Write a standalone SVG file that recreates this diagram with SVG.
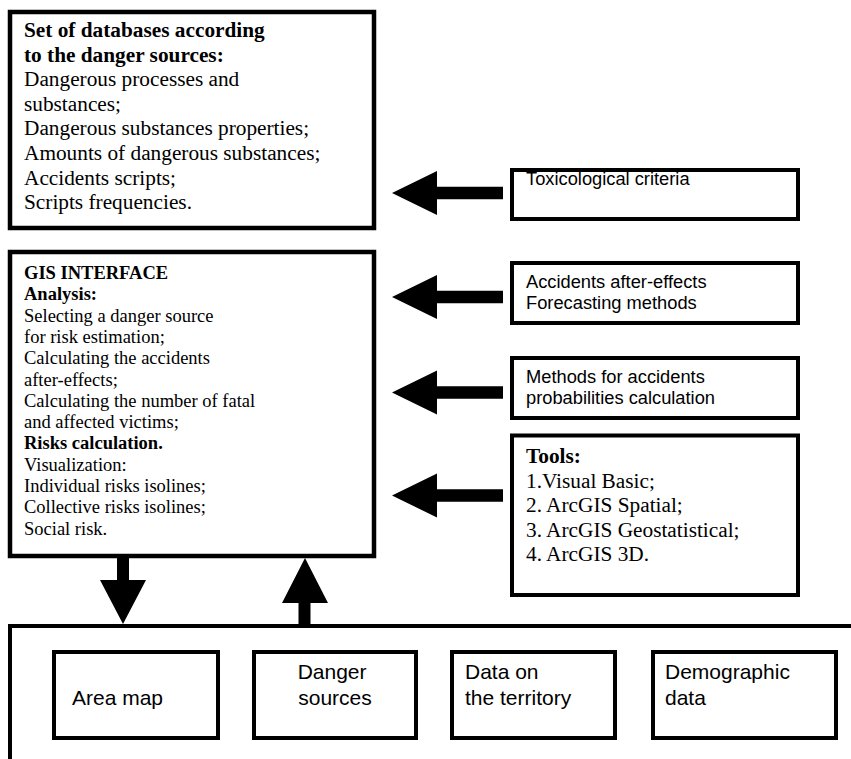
<svg xmlns="http://www.w3.org/2000/svg" width="851" height="759" viewBox="0 0 851 759">
  <style>
    .box { fill: #fff; stroke: #000; stroke-width: 4.5; }
    .sbox { fill: #fff; stroke: #000; stroke-width: 4; }
    .serif { font-family: "Liberation Serif", "Times New Roman", serif; fill: #000; }
    .sans { font-family: "Liberation Sans", Arial, sans-serif; fill: #000; }
    .b { font-weight: bold; }
    .arrow { fill: #000; }
  </style>
  <rect width="851" height="759" fill="#fff"/>

  <!-- outer frame of the data layer -->
  <g id="data-layer">
    <path d="M10,759 V626 H851" fill="none" stroke="#000" stroke-width="4"/>
  </g>

  <g id="databases">
    <rect class="box" x="10" y="12" width="364" height="216"/>
    <text class="serif" font-size="21.3">
      <tspan class="b" x="24" y="37">Set of databases according</tspan>
      <tspan class="b" x="24" y="61.6">to the danger sources:</tspan>
      <tspan x="24" y="86.2">Dangerous processes and</tspan>
      <tspan x="24" y="110.8">substances;</tspan>
      <tspan x="24" y="135.4">Dangerous substances properties;</tspan>
      <tspan x="24" y="160">Amounts of dangerous substances;</tspan>
      <tspan x="24" y="184.6">Accidents scripts;</tspan>
      <tspan x="24" y="209.2">Scripts frequencies.</tspan>
    </text>
  </g>

  <g id="gis-interface">
    <rect class="box" x="10" y="252" width="364" height="304"/>
    <text class="serif" font-size="18.5">
      <tspan class="b" x="24" y="279">GIS INTERFACE</tspan>
      <tspan class="b" x="24" y="300.3">Analysis:</tspan>
      <tspan x="24" y="321.6">Selecting a danger source</tspan>
      <tspan x="24" y="342.9">for risk estimation;</tspan>
      <tspan x="24" y="364.2">Calculating the accidents</tspan>
      <tspan x="24" y="385.5">after-effects;</tspan>
      <tspan x="24" y="406.8">Calculating the number of fatal</tspan>
      <tspan x="24" y="428.1">and affected victims;</tspan>
      <tspan class="b" x="24" y="449.4">Risks calculation.</tspan>
      <tspan x="24" y="470.7">Visualization:</tspan>
      <tspan x="24" y="492">Individual risks isolines;</tspan>
      <tspan x="24" y="513.3">Collective risks isolines;</tspan>
      <tspan x="24" y="534.6">Social risk.</tspan>
    </text>
  </g>

  <g id="toxicological-criteria">
    <rect class="sbox" x="512" y="170" width="286" height="49"/>
    <text class="sans" font-size="18.3" x="526" y="185">Toxicological criteria</text>
  </g>

  <g id="forecasting-methods">
    <rect class="sbox" x="512" y="263" width="286" height="60"/>
    <text class="sans" font-size="18.3">
      <tspan x="526" y="287.5">Accidents after-effects</tspan>
      <tspan x="526" y="308.5">Forecasting methods</tspan>
    </text>
  </g>

  <g id="probability-methods">
    <rect class="sbox" x="512" y="358" width="286" height="60"/>
    <text class="sans" font-size="18.3">
      <tspan x="526" y="382.5">Methods for accidents</tspan>
      <tspan x="526" y="403.5">probabilities calculation</tspan>
    </text>
  </g>

  <g id="tools">
    <rect class="sbox" x="512" y="435.5" width="286" height="159.5"/>
    <text class="serif" font-size="21.3">
      <tspan class="b" x="526" y="463">Tools:</tspan>
      <tspan x="526" y="487.5">1.Visual Basic;</tspan>
      <tspan x="526" y="512">2. ArcGIS Spatial;</tspan>
      <tspan x="526" y="536.5">3. ArcGIS Geostatistical;</tspan>
      <tspan x="526" y="561">4. ArcGIS 3D.</tspan>
    </text>
  </g>

  <g id="area-map">
    <rect class="sbox" x="54" y="652" width="164" height="86"/>
    <text class="sans" font-size="21" x="72" y="705">Area map</text>
  </g>

  <g id="danger-sources">
    <rect class="sbox" x="254" y="652" width="162" height="86"/>
    <text class="sans" font-size="21" text-anchor="middle">
      <tspan x="335" y="679">Danger</tspan>
      <tspan x="335" y="705">sources</tspan>
    </text>
  </g>

  <g id="territory-data">
    <rect class="sbox" x="452" y="652" width="163" height="86"/>
    <text class="sans" font-size="21">
      <tspan x="465" y="679">Data on</tspan>
      <tspan x="465" y="705">the territory</tspan>
    </text>
  </g>

  <g id="demographic-data">
    <rect class="sbox" x="653" y="652" width="183" height="86"/>
    <text class="sans" font-size="21">
      <tspan x="665" y="679">Demographic</tspan>
      <tspan x="665" y="705">data</tspan>
    </text>
  </g>

  <!-- block arrows -->
  <defs>
    <path id="left-arrow" d="M0,0 L45,-22 L45,-6.3 L111,-6.3 L111,6.3 L45,6.3 L45,22 Z"/>
  </defs>
  <g id="connectors" class="arrow">
    <use href="#left-arrow" x="392" y="193"/>
    <use href="#left-arrow" x="392" y="297"/>
    <use href="#left-arrow" x="392" y="392.5"/>
    <use href="#left-arrow" x="392" y="495.5"/>
    <!-- GIS to data layer -->
    <path d="M117,556 H129 V580 H146 L123,624 L100,580 H117 Z"/>
    <!-- data layer to GIS -->
    <path d="M298.5,626 V603 H282 L305,558 L328,603 H310.5 V626 Z"/>
  </g>
</svg>
